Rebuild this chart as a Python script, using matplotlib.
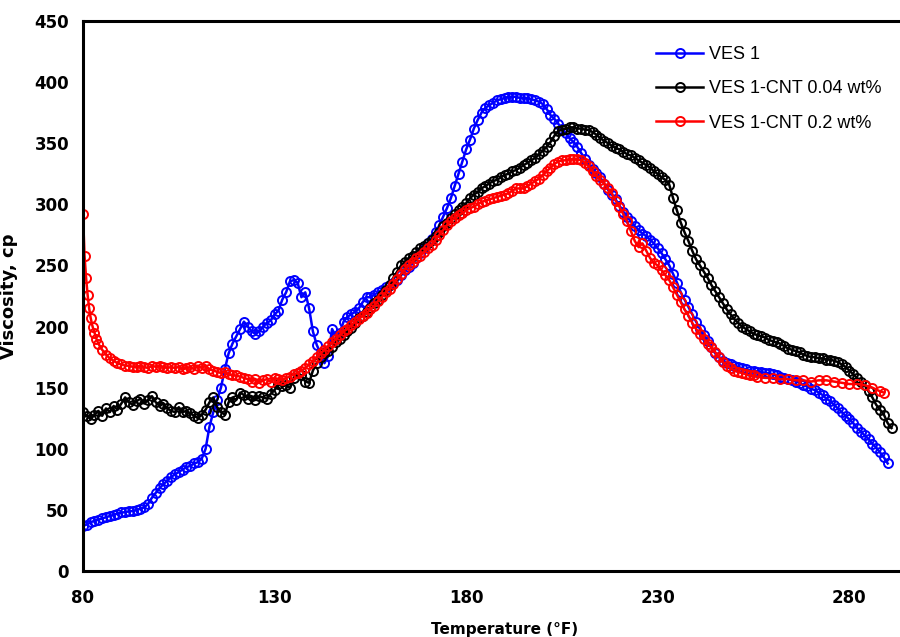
import matplotlib
matplotlib.use("Agg")
import matplotlib.pyplot as plt

# VES 1
temp_ves1 = list(range(80, 291))
visc_ves1 = [
    37, 38, 40, 41, 42, 43, 44, 45, 46, 47,          # 80-89
    48, 48, 49, 49, 50, 51, 52, 55, 60, 64,          # 90-99
    68, 71, 74, 77, 79, 81, 83, 85, 86, 88,          # 100-109
    89, 92, 100, 118, 130, 140, 150, 165, 178, 186,  # 110-119
    192, 198, 204, 200, 196, 194, 196, 200, 203, 205,  # 120-129
    210, 213, 222, 228, 237, 238, 236, 224, 228, 215,  # 130-139
    196, 185, 178, 170, 176, 198, 192, 195, 204, 208,  # 140-149
    210, 212, 215, 220, 224, 224, 226, 228, 230, 232,  # 150-159
    234, 236, 238, 242, 246, 249, 252, 256, 260, 264,  # 160-169
    268, 272, 277, 283, 290, 297, 305, 315, 325, 335,  # 170-179
    345, 353, 362, 369, 375, 379, 381, 383, 385, 386,  # 180-189
    387, 388, 388, 388, 387, 387, 387, 386, 385, 384,  # 190-199
    382, 378, 373, 370, 366, 362, 358, 354, 351, 347,  # 200-209
    342, 337, 332, 329, 326, 322, 317, 312, 308, 304,  # 210-219
    299, 294, 290, 286, 282, 279, 276, 274, 271, 268,  # 220-229
    264, 260, 255, 250, 243, 236, 228, 222, 216, 210,  # 230-239
    204, 198, 193, 188, 183, 178, 175, 172, 170, 169,  # 240-249
    168, 167, 166, 165, 164, 164, 163, 163, 162, 162,  # 250-259
    161, 160, 159, 158, 157, 156, 155, 154, 152, 151,  # 260-269
    149, 148, 146, 144, 141, 139, 136, 133, 130, 127,  # 270-279
    124, 121, 117, 114, 111, 108, 104, 101, 97, 93,    # 280-289
    88,                                                # 290
]

# VES 1-CNT 0.04 wt%
temp_cnt004 = list(range(80, 292))
visc_cnt004 = [
    130, 127, 124, 128, 131, 127, 133, 130, 135, 132,  # 80-89
    137, 142, 138, 136, 139, 141, 137, 140, 143, 138,  # 90-99
    135, 137, 133, 131, 130, 134, 130, 131, 129, 127,  # 100-109
    125, 128, 132, 138, 142, 134, 130, 128, 138, 142,  # 110-119
    140, 146, 144, 141, 143, 140, 143, 142, 141, 145,  # 120-129
    148, 153, 151, 152, 150, 158, 162, 160, 155, 154,  # 130-139
    164, 170, 175, 178, 180, 183, 187, 190, 193, 196,  # 140-149
    199, 203, 207, 209, 212, 215, 219, 222, 226, 230,  # 150-159
    234, 240, 245, 250, 253, 256, 258, 261, 264, 266,  # 160-169
    268, 271, 274, 277, 282, 285, 289, 292, 295, 298,  # 170-179
    301, 305, 308, 310, 313, 315, 317, 319, 320, 322,  # 180-189
    324, 325, 327, 328, 330, 332, 334, 336, 338, 341,  # 190-199
    344, 347, 351, 356, 360, 361, 362, 363, 363, 362,  # 200-209
    362, 361, 361, 359, 357, 354, 352, 350, 348, 346,  # 210-219
    345, 343, 341, 340, 338, 336, 334, 332, 330, 327,  # 220-229
    325, 322, 320, 316, 305, 295, 285, 277, 270, 262,  # 230-239
    255, 250, 245, 240, 234, 229, 224, 219, 214, 210,  # 240-249
    206, 203, 200, 198, 196, 194, 193, 192, 191, 189,  # 250-259
    188, 187, 186, 184, 182, 181, 180, 179, 177, 176,  # 260-269
    175, 175, 174, 174, 173, 173, 172, 171, 169, 167,  # 270-279
    164, 161, 158, 155, 152, 147, 142, 136, 132, 128,  # 280-289
    121, 117,                                          # 290-291
]

# VES 1-CNT 0.2 wt%
temp_cnt02 = [80, 80.4, 80.8, 81.2, 81.6, 82, 82.5, 83, 83.5, 84] + list(range(85, 257)) \
    + list(range(258, 289, 2)) + [289]
visc_cnt02 = [
    292, 258, 240, 226, 215, 207, 200, 195, 190, 186,  # 80-84
    181, 177, 174, 172, 170,                           # 85-89
    169, 168, 168, 167, 167, 168, 167, 166, 168, 167,  # 90-99
    168, 167, 166, 167, 166, 167, 165, 166, 167, 165,  # 100-109
    168, 166, 168, 165, 164, 163, 162, 163, 161, 160,  # 110-119
    160, 159, 158, 157, 155, 157, 154, 156, 157, 155,  # 120-129
    158, 157, 156, 158, 159, 161, 162, 164, 166, 169,  # 130-139
    172, 175, 178, 181, 184, 187, 190, 193, 196, 198,  # 140-149
    201, 204, 206, 209, 211, 214, 217, 221, 224, 228,  # 150-159
    231, 235, 239, 243, 247, 250, 253, 256, 258, 261,  # 160-169
    264, 267, 271, 275, 279, 283, 286, 289, 291, 293,  # 170-179
    295, 297, 298, 300, 302, 303, 304, 305, 306, 307,  # 180-189
    308, 309, 311, 313, 313, 313, 315, 317, 319, 321,  # 190-199
    324, 327, 330, 333, 335, 336, 336, 337, 337, 337,  # 200-209
    336, 334, 331, 327, 323, 320, 317, 313, 309, 303,  # 210-219
    298, 292, 286, 278, 270, 265, 268, 262, 256, 252,  # 220-229
    250, 246, 242, 238, 232, 226, 220, 214, 209, 203,  # 230-239
    198, 194, 190, 186, 183, 179, 175, 171, 168, 166,  # 240-249
    164, 163, 162, 161, 160, 160, 159,                 # 250-256
    158, 158, 157, 157, 156, 156, 155, 156, 156, 155,  # 258-276
    154, 153, 153, 152, 150, 147,                      # 278-288
    146,                                               # 289
]

x_ticks = [80, 130, 180, 230, 280]
y_ticks = list(range(0, 451, 50))

fig = plt.figure(figsize=(9, 6.37), dpi=100)
ax = fig.add_axes([83 / 900, 66 / 637, 843 / 900, 550 / 637])

series = [
    (temp_ves1, visc_ves1, "#0000ff", "VES 1"),
    (temp_cnt004, visc_cnt004, "#000000", "VES 1-CNT 0.04 wt%"),
    (temp_cnt02, visc_cnt02, "#ff0000", "VES 1-CNT 0.2 wt%"),
]
for t, v, c, lab in series:
    ax.plot(t, v, color=c, lw=1.8, marker="o", ms=6.5, mfc="none",
            mec=c, mew=1.4, label=lab)

ax.set_xlim(80, 300)
ax.set_ylim(0, 450)
ax.set_xticks(x_ticks)
ax.set_yticks(y_ticks)
ax.tick_params(length=0, labelsize=12, pad=10)
for lbl in ax.get_xticklabels() + ax.get_yticklabels():
    lbl.set_fontweight("bold")
ax.tick_params(axis="x", pad=13)

for s in ["left", "bottom", "top", "right"]:
    ax.spines[s].set_linewidth(2.2)

ax.set_xlabel("Temperature (°F)", fontsize=11, fontweight="bold",
              family=["Liberation Sans Narrow", "DejaVu Sans"], labelpad=11)
ax.set_ylabel("Viscosity, cp", fontsize=13, fontweight="bold",
              family=["Liberation Sans Narrow", "DejaVu Sans"], labelpad=12)

leg = ax.legend(loc="upper left", bbox_to_anchor=(640 / 900, 1 - 30 / 637),
                bbox_transform=fig.transFigure, frameon=False,
                prop={"family": "Liberation Sans", "size": 13},
                handlelength=2.6, handletextpad=0.3, labelspacing=0.95)

fig.savefig("out.png", dpi=100)
